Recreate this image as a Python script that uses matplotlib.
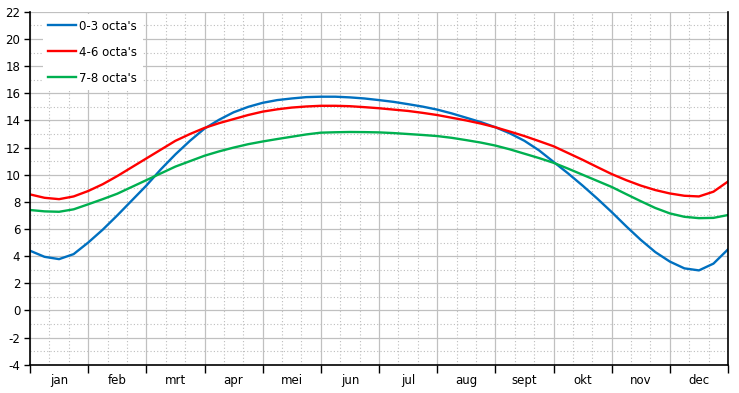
import numpy as np
import matplotlib.pyplot as plt
from matplotlib.ticker import MultipleLocator

plt.rcParams['axes.unicode_minus'] = False

# position in months (0 = 1 jan, 12 = 31 dec), quarter-month steps
months = np.arange(0, 12.01, 0.25)
month_labels = ['jan', 'feb', 'mrt', 'apr', 'mei', 'jun',
                'jul', 'aug', 'sept', 'okt', 'nov', 'dec']

clear = [4.4, 3.95, 3.78, 4.15, 5.0, 5.95, 7.0, 8.1, 9.2, 10.4, 11.5, 12.5,
         13.4, 14.05, 14.6, 15.0, 15.3, 15.5, 15.62, 15.72, 15.75, 15.75, 15.7, 15.62,
         15.5, 15.37, 15.2, 15.02, 14.8, 14.52, 14.2, 13.88, 13.5, 13.05, 12.5, 11.8,
         10.95, 10.1, 9.2, 8.25, 7.25, 6.2, 5.2, 4.3, 3.6, 3.1, 2.95, 3.45, 4.5]
partly = [8.55, 8.3, 8.2, 8.4, 8.8, 9.3, 9.9, 10.55, 11.2, 11.85, 12.5, 13.0,
          13.45, 13.8, 14.1, 14.4, 14.65, 14.82, 14.95, 15.03, 15.08, 15.08, 15.05, 14.98,
          14.9, 14.8, 14.7, 14.56, 14.4, 14.2, 14.0, 13.77, 13.5, 13.18, 12.85, 12.48,
          12.1, 11.6, 11.1, 10.57, 10.05, 9.6, 9.2, 8.87, 8.62, 8.45, 8.4, 8.75, 9.5]
overcast = [7.4, 7.3, 7.27, 7.45, 7.82, 8.2, 8.6, 9.1, 9.6, 10.1, 10.6, 11.0,
            11.4, 11.72, 12.0, 12.25, 12.45, 12.63, 12.8, 12.97, 13.1, 13.13, 13.15, 13.14,
            13.12, 13.07, 13.0, 12.93, 12.85, 12.72, 12.55, 12.37, 12.15, 11.87, 11.55, 11.23,
            10.88, 10.45, 10.0, 9.55, 9.1, 8.57, 8.05, 7.55, 7.15, 6.9, 6.8, 6.82, 7.03]

fig = plt.figure(figsize=(7.39, 3.93), dpi=100)
ax = fig.add_axes([30 / 739, 28.3 / 393, 698 / 739, 352.8 / 393])

ax.plot(months, clear, color='#0070c0', lw=1.7, label="0-3 octa's")
ax.plot(months, partly, color='#ff0000', lw=1.7, label="4-6 octa's")
ax.plot(months, overcast, color='#00b050', lw=1.7, label="7-8 octa's")

ax.set_xlim(0, 12)
ax.set_ylim(-4, 22)

ax.set_xticks(np.arange(0, 13))
ax.set_xticklabels([])
ax.xaxis.set_minor_locator(MultipleLocator(1 / 3))
ax.yaxis.set_major_locator(MultipleLocator(2))
ax.yaxis.set_minor_locator(MultipleLocator(1))

ax.grid(which='major', color='#c0c0c0', lw=0.9)
ax.grid(which='minor', color='#bdbdbd', lw=0.8, ls=(0, (1, 2)))
ax.set_axisbelow(True)

ax.tick_params(which='major', axis='x', direction='out', length=6, width=1, color='black')
ax.tick_params(which='major', axis='y', direction='out', length=4, width=1,
               color='black', labelsize=8.5, pad=3)
ax.tick_params(which='minor', length=0)

for i, lab in enumerate(month_labels):
    ax.text(i + 0.5, -0.045, lab, transform=ax.get_xaxis_transform(),
            ha='center', va='center', fontsize=8.5)

ax.spines['top'].set_visible(False)
for side in ['left', 'bottom', 'right']:
    ax.spines[side].set_color('black')
    ax.spines[side].set_linewidth(1.2)

leg = ax.legend(loc='upper left', bbox_to_anchor=(0.018, 0.995), borderaxespad=0,
                fontsize=8.5, handlelength=2.3, labelspacing=1.1, handletextpad=0.3,
                framealpha=1, fancybox=False, borderpad=0.5)
leg.get_frame().set_edgecolor('none')

fig.savefig('out.png', dpi=100)
